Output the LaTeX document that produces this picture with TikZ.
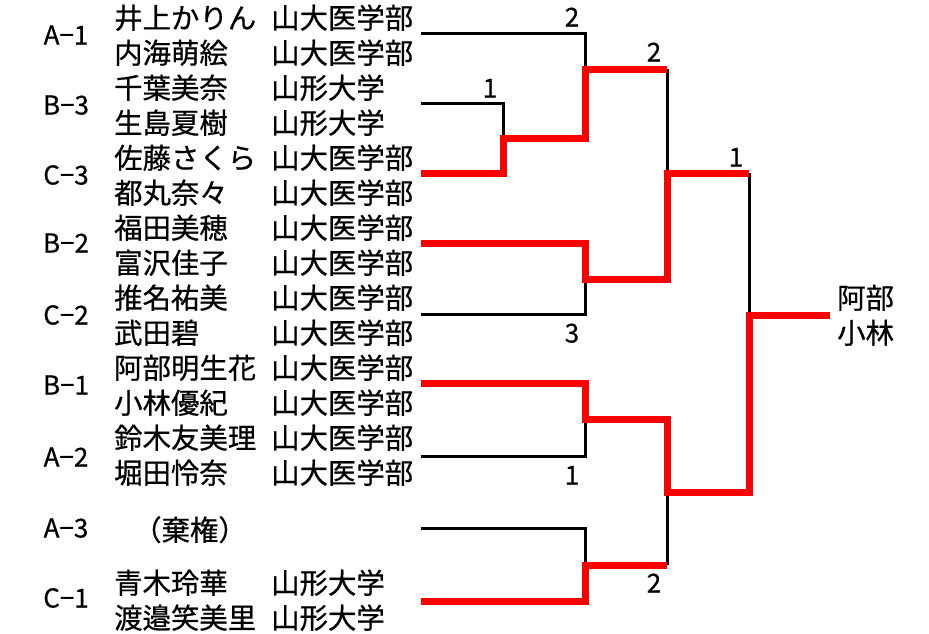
\documentclass[tikz,border=0pt]{standalone}
\usepackage{fontspec}
\setmainfont{Noto Sans CJK JP}[FakeBold=0.6]
\begin{document}
\begin{tikzpicture}[x=1pt,y=-1pt]
\tikzset{
  txt/.style={anchor=west, inner sep=0pt, font=\fontsize{28.4}{28}\selectfont, text height=22pt, text depth=1pt},
  grp/.style={anchor=center, inner sep=0pt, font=\fontsize{26}{26}\selectfont, text height=20pt, text depth=1pt},
  score/.style={anchor=center, inner sep=0pt, font=\fontsize{26}{26}\selectfont, text height=19pt, text depth=0pt},
  losepath/.style={line width=3pt, black, line join=miter},
  winpath/.style={line width=7pt, red, line join=miter},
}
\useasboundingbox (0,0) rectangle (929,633);
% group labels
\foreach \g/\y [count=\i] in {A−1/35, B−3/105, C−3/175, B−2/243, C−2/315, B−1/385, A−2/457, A−3/528, C−1/598}
  \node[grp] (g\i) at (66,\y) {\g};
% names and schools
\foreach \n/\s/\y [count=\i] in {
  井上かりん/山大医学部/18, 内海萌絵/山大医学部/53, 千葉美奈/山形大学/88, 生島夏樹/山形大学/123,
  佐藤さくら/山大医学部/158, 都丸奈々/山大医学部/193, 福田美穂/山大医学部/228, 富沢佳子/山大医学部/263,
  推名祐美/山大医学部/298, 武田碧/山大医学部/333, 阿部明生花/山大医学部/368, 小林優紀/山大医学部/403,
  鈴木友美理/山大医学部/438, 堀田怜奈/山大医学部/473, 青木玲華/山形大学/583, 渡邉笑美里/山形大学/618}
{
  \node[txt] (n\i) at (114,\y) {\n};
  \node[txt] (s\i) at (271,\y) {\s};
}
\node[txt] (kiken) at (133,530) {（棄権）};
% winner
\node[txt] (w1) at (837,298) {阿部};
\node[txt] (w2) at (837,333) {小林};
% bracket coordinates
\coordinate (a1) at (421,33);   \coordinate (a1e) at (585,33);
\coordinate (b3) at (421,103);  \coordinate (b3e) at (503,103);
\coordinate (c3) at (421,173);  \coordinate (c3e) at (503,173);
\coordinate (m1) at (503,138);  \coordinate (m1e) at (585,138);
\coordinate (q1) at (585,69);   \coordinate (q1e) at (667,69);
\coordinate (b2) at (421,243);  \coordinate (b2e) at (585,243);
\coordinate (c2) at (421,314);  \coordinate (c2e) at (585,314);
\coordinate (q2) at (585,279);  \coordinate (q2e) at (667,279);
\coordinate (s1) at (667,173);  \coordinate (s1e) at (749,173);
\coordinate (b1) at (421,383);  \coordinate (b1e) at (585,383);
\coordinate (a2) at (421,456);  \coordinate (a2e) at (585,456);
\coordinate (q3) at (585,419);  \coordinate (q3e) at (667,419);
\coordinate (a3) at (421,528);  \coordinate (a3e) at (585,528);
\coordinate (c1) at (421,601);  \coordinate (c1e) at (585,601);
\coordinate (q4) at (585,565);  \coordinate (q4e) at (667,565);
\coordinate (s2) at (667,492);  \coordinate (s2e) at (749,492);
\coordinate (f)  at (749,315);  \coordinate (fe) at (830,315);
% losing lines
\draw[losepath] (a1) -- (a1e) -- (q1);
\draw[losepath] (b3) -- (b3e) -- (m1);
\draw[losepath] (q1e) -- (s1);
\draw[losepath] (c2) -- (c2e) -- (q2);
\draw[losepath] (s1e) -- (f);
\draw[losepath] (a2) -- (a2e) -- (q3);
\draw[losepath] (a3) -- (a3e) -- (q4);
\draw[losepath] (s2) -- (q4e);
% winning lines
\draw[winpath] (c3) -- (c3e) -- (m1) -- (m1e) -- (q1) -- (q1e);
\draw[winpath] (b2) -- (b2e) -- (q2) -- (q2e) -- (s1) -- (s1e);
\draw[winpath] (b1) -- (b1e) -- (q3) -- (q3e) -- (s2) -- (s2e) -- (f) -- (fe);
\draw[winpath] (c1) -- (c1e) -- (q4) -- (q4e);
% scores
\node[score] (p1) at (572,17) {2};
\node[score] (p2) at (490,88) {1};
\node[score] (p3) at (654,52) {2};
\node[score] (p4) at (736,157) {1};
\node[score] (p5) at (572,333) {3};
\node[score] (p6) at (572,475) {1};
\node[score] (p7) at (654,583) {2};
\end{tikzpicture}
\end{document}
